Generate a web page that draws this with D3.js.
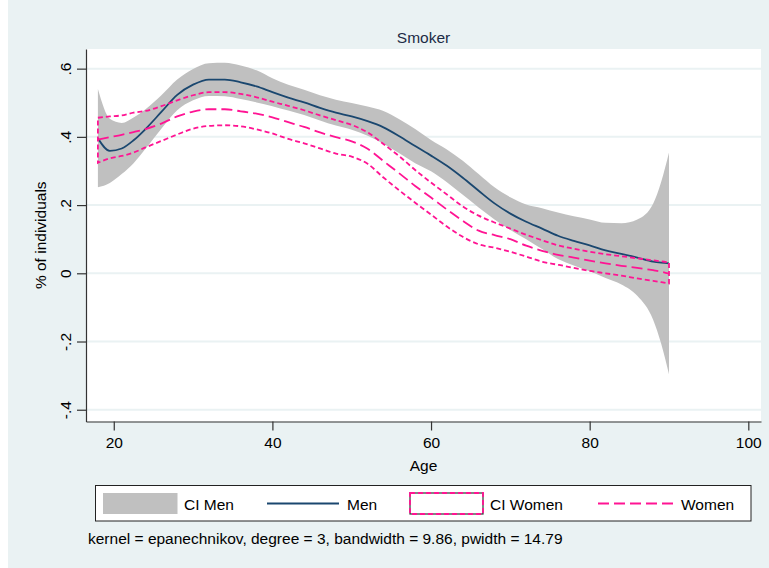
<!DOCTYPE html>
<html>
<head>
<meta charset="utf-8">
<script src="https://cdn.jsdelivr.net/npm/d3@7"></script>
<style>
  html, body { margin: 0; padding: 0; background: #ffffff; }
  svg text { font-family: "Liberation Sans", Arial, Helvetica, sans-serif; fill: #000; }
</style>
</head>
<body>
<svg id="chart" width="769" height="568"></svg>
<script>
// Local polynomial smooth of smoking share by age, men vs women
const ages = [18, 19.5, 21, 22.5, 24, 26, 28, 30, 32, 34, 36, 38, 40, 42, 44, 46, 48, 50,
  52, 54, 56, 58, 60, 62, 64, 66, 68, 70, 72, 74, 76, 78, 80, 82, 84, 86, 88, 89, 90];

const menFit = [0.396, 0.359, 0.366, 0.390, 0.423, 0.473, 0.523, 0.553, 0.568, 0.568, 0.560, 0.548,
  0.531, 0.515, 0.501, 0.485, 0.471, 0.460, 0.446, 0.428, 0.402, 0.373, 0.345, 0.315, 0.280, 0.242,
  0.205, 0.175, 0.151, 0.131, 0.110, 0.095, 0.082, 0.067, 0.057, 0.046, 0.034, 0.031, 0.029];
const menUpper = [0.540, 0.453, 0.441, 0.457, 0.481, 0.522, 0.568, 0.599, 0.616, 0.617, 0.609, 0.595,
  0.572, 0.553, 0.538, 0.522, 0.509, 0.499, 0.489, 0.476, 0.452, 0.423, 0.391, 0.363, 0.330, 0.291,
  0.252, 0.223, 0.202, 0.191, 0.178, 0.167, 0.158, 0.148, 0.147, 0.158, 0.204, 0.267, 0.354];
const menLower = [0.252, 0.265, 0.291, 0.323, 0.365, 0.424, 0.478, 0.507, 0.520, 0.519, 0.511, 0.501,
  0.490, 0.477, 0.464, 0.448, 0.433, 0.421, 0.403, 0.380, 0.352, 0.323, 0.299, 0.267, 0.230, 0.193,
  0.158, 0.127, 0.100, 0.071, 0.042, 0.023, 0.006, -0.014, -0.033, -0.066, -0.136, -0.205, -0.296];

const womenFit = [0.392, 0.399, 0.406, 0.414, 0.423, 0.439, 0.460, 0.474, 0.481, 0.481, 0.475, 0.468,
  0.457, 0.443, 0.429, 0.413, 0.399, 0.387, 0.365, 0.329, 0.293, 0.256, 0.222, 0.187, 0.154, 0.125,
  0.112, 0.100, 0.081, 0.066, 0.054, 0.046, 0.037, 0.029, 0.022, 0.016, 0.009, 0.005, -0.001];
const womenUpper = [0.456, 0.460, 0.463, 0.471, 0.476, 0.490, 0.507, 0.522, 0.531, 0.531, 0.526, 0.516,
  0.503, 0.491, 0.478, 0.463, 0.449, 0.435, 0.413, 0.379, 0.343, 0.303, 0.266, 0.231, 0.196, 0.169,
  0.149, 0.131, 0.113, 0.097, 0.082, 0.072, 0.063, 0.056, 0.050, 0.044, 0.038, 0.035, 0.032];
const womenLower = [0.324, 0.337, 0.344, 0.354, 0.369, 0.388, 0.407, 0.424, 0.432, 0.434, 0.431, 0.422,
  0.410, 0.394, 0.381, 0.366, 0.351, 0.342, 0.321, 0.281, 0.243, 0.207, 0.172, 0.137, 0.107, 0.085,
  0.075, 0.063, 0.049, 0.034, 0.025, 0.016, 0.007, 0.000, -0.007, -0.015, -0.022, -0.026, -0.030];

const xTicks = [20, 40, 60, 80, 100];
const yTicks = [-0.4, -0.2, 0, 0.2, 0.4, 0.6];
const yTickLabels = ["-.4", "-.2", "0", ".2", ".4", ".6"];
const legendLabels = ["CI Men", "Men", "CI Women", "Women"];
const titleText = "Smoker";
const xTitle = "Age";
const yTitle = "% of individuals";
const noteText = "kernel = epanechnikov, degree = 3, bandwidth = 9.86, pwidth = 14.79";

// Layout
const W = 769, H = 568;
const plot = { left: 86, right: 761, top: 49, bottom: 421.5 };
const bgColor = "#eaf2f3";
const grayCI = "#c0c0c0";
const navy = "#1a476f";
const pink = "#ff1493";

const svg = d3.select("#chart");

// Scales span the full plot region
const x = d3.scaleLinear().domain([16.5, 101.6]).range([plot.left, plot.right]);
const y = d3.scaleLinear().domain([-0.4345, 0.6576]).range([plot.bottom, plot.top]);

// Graph region and plot region
svg.append("rect").attr("x", 8).attr("y", 0).attr("width", W - 8).attr("height", H).attr("fill", bgColor);
svg.append("rect").attr("x", plot.left).attr("y", plot.top)
  .attr("width", plot.right - plot.left).attr("height", plot.bottom - plot.top).attr("fill", "#ffffff");

// Horizontal grid lines
svg.append("g").selectAll("line").data(yTicks).join("line")
  .attr("x1", plot.left).attr("x2", plot.right)
  .attr("y1", d => y(d)).attr("y2", d => y(d))
  .attr("stroke", bgColor).attr("stroke-width", 2);

const rows = ages.map((a, i) => ({
  age: a, mf: menFit[i], mu: menUpper[i], ml: menLower[i],
  wf: womenFit[i], wu: womenUpper[i], wl: womenLower[i]
}));

const curve = d3.curveMonotoneX;

// CI Men band
svg.append("path").datum(rows)
  .attr("d", d3.area().curve(curve).x(d => x(d.age)).y0(d => y(d.ml)).y1(d => y(d.mu)))
  .attr("fill", grayCI);

// Men fit
svg.append("path").datum(rows)
  .attr("d", d3.line().curve(curve).x(d => x(d.age)).y(d => y(d.mf)))
  .attr("fill", "none").attr("stroke", navy).attr("stroke-width", 1.8);

// CI Women outline (closed, unfilled)
const upperPath = d3.line().curve(curve).x(d => x(d.age)).y(d => y(d.wu))(rows);
const lowerPath = d3.line().curve(curve).x(d => x(d.age)).y(d => y(d.wl))(rows.slice().reverse());
svg.append("path")
  .attr("d", upperPath + "L" + lowerPath.slice(1) + "Z")
  .attr("fill", "none").attr("stroke", pink).attr("stroke-width", 1.8)
  .attr("stroke-dasharray", "5,3");

// Women fit
svg.append("path").datum(rows)
  .attr("d", d3.line().curve(curve).x(d => x(d.age)).y(d => y(d.wf)))
  .attr("fill", "none").attr("stroke", pink).attr("stroke-width", 1.8)
  .attr("stroke-dasharray", "11,5");

// Axes
const yAxis = svg.append("g").attr("transform", `translate(${plot.left},0)`)
  .call(d3.axisLeft(y).tickValues(yTicks).tickSize(9).tickSizeOuter(0)
    .tickFormat((d, i) => yTickLabels[i]));
yAxis.select(".domain").attr("stroke", "#333").attr("stroke-width", 1.2);
yAxis.selectAll(".tick line").attr("stroke", "#333").attr("stroke-width", 1.2);
yAxis.selectAll(".tick text")
  .attr("transform", "rotate(-90)").attr("x", 0).attr("y", -15.5).attr("dy", 0)
  .attr("text-anchor", "middle").style("font-size", "15.5px");

const xAxis = svg.append("g").attr("transform", `translate(0,${plot.bottom})`)
  .call(d3.axisBottom(x).tickValues(xTicks).tickSize(9).tickSizeOuter(0).tickFormat(d3.format("d")));
xAxis.select(".domain").attr("stroke", "#333").attr("stroke-width", 1.2);
xAxis.selectAll(".tick line").attr("stroke", "#333").attr("stroke-width", 1.2);
xAxis.selectAll(".tick text").attr("y", 26).attr("dy", 0).style("font-size", "15.5px");

// Titles
const cx = (plot.left + plot.right) / 2;
svg.append("text").attr("x", cx).attr("y", 42.5).attr("text-anchor", "middle")
  .style("font-size", "15.5px").style("fill", "#1c2b45").text(titleText);
svg.append("text").attr("x", cx).attr("y", 471).attr("text-anchor", "middle")
  .style("font-size", "15.5px").text(xTitle);
svg.append("text").attr("transform", `translate(45.5,${(plot.top + plot.bottom) / 2}) rotate(-90)`)
  .attr("text-anchor", "middle").style("font-size", "15.5px").text(yTitle);

// Legend
const lg = svg.append("g");
lg.append("rect").attr("x", 95.5).attr("y", 485.5).attr("width", 655.5).attr("height", 35.5)
  .attr("fill", "#ffffff").attr("stroke", "#222").attr("stroke-width", 1);
const ly = 503.5;
lg.append("rect").attr("x", 103).attr("y", 493).attr("width", 74.5).attr("height", 21).attr("fill", grayCI);
lg.append("line").attr("x1", 267).attr("x2", 339).attr("y1", ly).attr("y2", ly)
  .attr("stroke", navy).attr("stroke-width", 1.8);
lg.append("rect").attr("x", 410).attr("y", 493).attr("width", 73).attr("height", 21)
  .attr("fill", "#ffffff").attr("stroke", "#333").attr("stroke-width", 1.2);
lg.append("rect").attr("x", 410).attr("y", 493).attr("width", 73).attr("height", 21)
  .attr("fill", "none").attr("stroke", pink).attr("stroke-width", 1.8).attr("stroke-dasharray", "5,3");
lg.append("line").attr("x1", 598).attr("x2", 673).attr("y1", ly).attr("y2", ly)
  .attr("stroke", pink).attr("stroke-width", 1.8).attr("stroke-dasharray", "11,5");
const labelX = [184, 347, 490, 681];
lg.selectAll("text.lab").data(legendLabels).join("text").attr("class", "lab")
  .attr("x", (d, i) => labelX[i]).attr("y", 509.5)
  .style("font-size", "15.5px").text(d => d);

// Note
svg.append("text").attr("x", 88).attr("y", 543.5).style("font-size", "15.5px").text(noteText);
</script>
</body>
</html>
